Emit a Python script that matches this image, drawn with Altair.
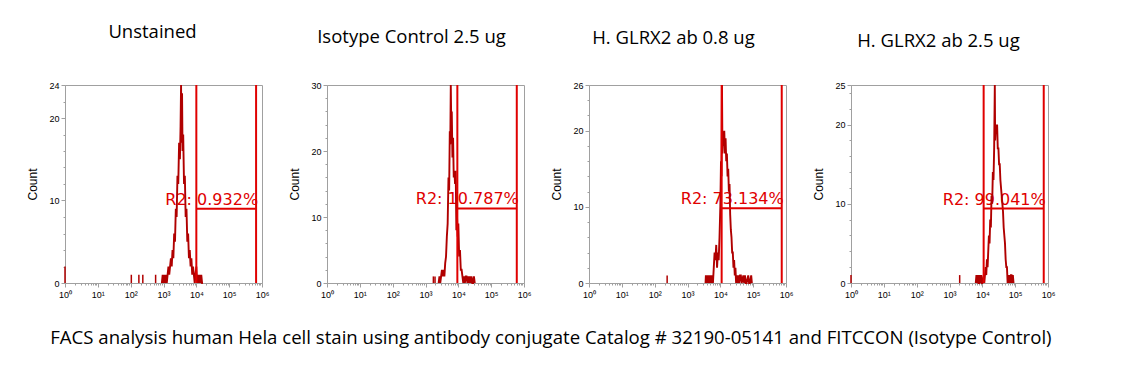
import math
import altair as alt
import pandas as pd

# ---------------- data ----------------
titles = ["Unstained", "Isotype Control 2.5 ug", "H. GLRX2 ab 0.8 ug", "H. GLRX2 ab 2.5 ug"]
caption = "FACS analysis human Hela cell stain using antibody conjugate Catalog # 32190-05141 and FITCCON (Isotype Control)"
y_max = [24, 30, 26, 25]
gate_lo = [4.0, 3.97, 4.04, 4.04]
gate_hi = [5.82, 5.78, 5.87, 5.87]
gate_y = [9.0, 11.3, 9.8, 9.4]
gate_text = ["R2: 0.932%", "R2: 10.787%", "R2: 73.134%", "R2: 99.041%"]

# panel 1 : Unstained (log10 fluorescence, count)
p1_x = [2.95, 2.975, 3.0, 3.025, 3.05, 3.075, 3.1, 3.125, 3.15, 3.175, 3.2, 3.225, 3.25, 3.275,
        3.3, 3.325, 3.35, 3.375, 3.4, 3.425, 3.45, 3.475, 3.5, 3.52, 3.535, 3.55, 3.565, 3.58,
        3.6, 3.625, 3.65, 3.675, 3.7, 3.725, 3.75, 3.775, 3.8, 3.825, 3.85, 3.875, 3.9, 3.925,
        3.95, 3.975, 4.0, 4.025, 4.05, 4.075, 4.1, 4.125, 4.15, 4.175, 4.2]
p1_y = [0, 1, 0, 1, 0, 1, 0, 1, 2, 1, 2, 3, 2, 4,
        3, 6, 5, 9, 8, 13, 12, 17, 15, 19, 24, 17, 23, 16,
        18, 12, 13, 8, 9, 5, 6, 3, 4, 2, 3, 1, 2, 1,
        0, 1, 2, 0, 1, 0, 1, 0, 1, 0, 0]
i1_x = [0.0, 2.02, 2.25, 2.37, 2.76]
i1_y = [2, 1, 1, 1, 1]

# panel 2 : Isotype control
p2_x = [3.4, 3.425, 3.45, 3.475, 3.5, 3.525, 3.55, 3.575, 3.6, 3.625, 3.65, 3.675, 3.7, 3.72,
        3.74, 3.755, 3.77, 3.785, 3.8, 3.82, 3.84, 3.86, 3.88, 3.9, 3.92, 3.94, 3.96, 3.98,
        4.0, 4.025, 4.05, 4.075, 4.1, 4.125, 4.15, 4.175, 4.2, 4.225, 4.25, 4.275, 4.3, 4.325,
        4.35, 4.375, 4.4, 4.425, 4.45, 4.475, 4.5]
p2_y = [0, 1, 0, 1, 2, 1, 2, 1, 3, 4, 7, 9, 16, 14,
        23, 21, 30, 24, 26, 19, 22, 16, 17, 15, 17, 8, 10, 7,
        9, 4, 5, 2, 2, 1, 0, 1, 0, 1, 1, 0, 1, 0,
        1, 0, 1, 0, 0, 1, 0]
i2_x = [3.24, 3.29]
i2_y = [1, 1]

# panel 3 : GLRX2 ab 0.8 ug
p3_x = [3.55, 3.56, 3.58, 3.6, 3.625, 3.65, 3.675, 3.7, 3.725, 3.75, 3.775, 3.8, 3.825, 3.85,
        3.875, 3.9, 3.925, 3.95, 3.975, 4.0, 4.02, 4.035, 4.05, 4.065, 4.08, 4.1, 4.12, 4.14,
        4.16, 4.18, 4.2, 4.22, 4.24, 4.26, 4.28, 4.3, 4.32, 4.34, 4.36, 4.38, 4.4, 4.42,
        4.44, 4.46, 4.48, 4.5, 4.525, 4.55, 4.575, 4.6, 4.625, 4.65, 4.7, 4.725, 4.75, 4.775,
        4.8, 4.85, 4.875, 4.9, 4.94, 4.96]
p3_y = [0, 1, 0, 1, 0, 1, 0, 1, 0, 1, 0, 2, 4, 3,
        5, 2, 4, 3, 6, 10, 16, 14, 26, 17, 19, 18, 20, 17,
        19, 16, 17, 14, 15, 12, 13, 9, 7, 6, 4, 4, 2, 3,
        1, 2, 0, 1, 0, 1, 0, 1, 1, 0, 1, 0, 1, 0,
        0, 1, 0, 0, 1, 0]
i3_x = [2.38]
i3_y = [1]

# panel 4 : GLRX2 ab 2.5 ug
p4_x = [3.8, 3.82, 3.84, 3.86, 3.88, 3.9, 3.92, 3.94, 3.96, 3.98, 4.0, 4.04, 4.06, 4.08,
        4.1, 4.12, 4.14, 4.16, 4.18, 4.2, 4.22, 4.24, 4.26, 4.28, 4.3, 4.32, 4.34, 4.36,
        4.38, 4.39, 4.41, 4.43, 4.45, 4.47, 4.49, 4.51, 4.53, 4.55, 4.57, 4.59, 4.61, 4.63,
        4.65, 4.67, 4.69, 4.71, 4.73, 4.75, 4.77, 4.79, 4.81, 4.83, 4.85, 4.87, 4.89, 4.91,
        4.93, 4.95]
p4_y = [0, 1, 0, 1, 0, 0, 1, 0, 1, 0, 0, 1, 0, 1,
        2, 1, 3, 2, 4, 6, 5, 8, 7, 11, 10, 14, 13, 17,
        25, 18, 20, 19, 20, 17, 17, 15, 15, 13, 12, 11, 10, 9,
        7, 6, 5, 3, 2, 2, 0, 1, 0, 1, 0, 1, 1, 0,
        1, 0]
i4_x = [0.0, 3.31]
i4_y = [1, 1]

bodies = [(p1_x, p1_y), (p2_x, p2_y), (p3_x, p3_y), (p4_x, p4_y)]
isolated = [(i1_x, i1_y), (i2_x, i2_y), (i3_x, i3_y), (i4_x, i4_y)]
title_dx = [-11, -14, -14, -11]
title_dy = [0, 5, 6, 9]

# ---------------- styling ----------------
HIST = "#b00000"
GATE = "#e00000"
AXC = "#a0a0a0"
W = 197
H = 198

x_ticks = []
for d in range(6):
    for k in range(1, 10):
        x_ticks.append(d + math.log10(k))
x_ticks.append(6.0)

sup = "['\u2070','\u00b9','\u00b2','\u00b3','\u2074','\u2075','\u2076']"
is_decade = "abs(datum.value - round(datum.value)) < 0.0001"


def panel(i):
    bx, by = bodies[i]
    ix, iy = isolated[i]
    body = pd.DataFrame({"x": bx, "y": by})
    iso = pd.DataFrame({"x": ix, "y": iy})
    gate = pd.DataFrame({"lo": [gate_lo[i]], "hi": [gate_hi[i]], "gy": [gate_y[i]],
                         "label": [gate_text[i]]})
    ym = y_max[i]
    yvals = list(range(0, ym + 1, 2))
    if ym not in yvals:
        yvals.append(ym)
    ymajor = "(datum.value % 10 === 0 || datum.value === " + str(ym) + ")"

    xscale = alt.Scale(domain=[0, 6], nice=False, zero=False)
    yscale = alt.Scale(domain=[0, ym], nice=False, zero=True)
    xaxis = alt.Axis(
        values=x_ticks,
        labelExpr=is_decade + " ? '10' + " + sup + "[round(datum.value)] : ''",
        tickSize={"condition": {"test": is_decade, "value": 4}, "value": 2},
        labelOverlap=False, labelFlush=False, labelPadding=3, title=None,
    )
    yaxis = alt.Axis(
        values=yvals,
        labelExpr=ymajor + " ? datum.label : ''",
        tickSize={"condition": {"test": ymajor, "value": 4}, "value": 2},
        labelOverlap=False, labelFlush=False, labelPadding=2, title="Count", titlePadding=9,
    )

    def X(f):
        return alt.X(f, scale=xscale, axis=xaxis, title=None)

    def Y(f):
        return alt.Y(f, scale=yscale, axis=yaxis, title="Count")

    txt = alt.Chart(gate).mark_text(align="right", baseline="alphabetic", dy=-4, dx=2,
                                    font="DejaVu Sans", fontSize=16, color=GATE).encode(
        x=X("hi:Q"), y=Y("gy:Q"), text="label:N")
    line = alt.Chart(body).mark_line(color=HIST, strokeWidth=1.9).encode(x=X("x:Q"), y=Y("y:Q"))
    rules = alt.Chart(iso).transform_calculate(base="0").mark_rule(color=HIST, strokeWidth=1.5).encode(
        x=X("x:Q"), y=Y("base:Q"), y2="y:Q")
    vlo = alt.Chart(gate).mark_rule(color=GATE, strokeWidth=2).encode(x=X("lo:Q"))
    vhi = alt.Chart(gate).mark_rule(color=GATE, strokeWidth=2).encode(x=X("hi:Q"))
    hz = alt.Chart(gate).mark_rule(color=GATE, strokeWidth=2).encode(x=X("lo:Q"), x2="hi:Q", y=Y("gy:Q"))

    return alt.layer(txt, line, rules, vlo, vhi, hz).properties(
        width=W, height=H,
        title=alt.TitleParams(titles[i], font="Open Sans", fontSize=18.5, fontWeight="normal",
                              color="black", offset=40, dx=title_dx[i], dy=title_dy[i]),
    )


chart = alt.hconcat(*[panel(i) for i in range(4)], spacing=65, bounds="flush").properties(
    title=alt.TitleParams(caption, orient="bottom", font="Open Sans", fontSize=18.6,
                          fontWeight="normal", color="black", offset=29, anchor="middle", dx=10),
    padding={"left": 18, "top": 14, "right": 5, "bottom": 5},
).configure_view(stroke=AXC, strokeWidth=1).configure_axis(
    domainColor=AXC, tickColor=AXC, grid=False, labelColor="black",
    labelFont="Liberation Sans", labelFontSize=9, titleFont="Liberation Sans",
    titleFontSize=12, titleFontWeight="normal", titleColor="black",
)

chart.save("out.html", embed_options={"renderer": "svg", "actions": False})
